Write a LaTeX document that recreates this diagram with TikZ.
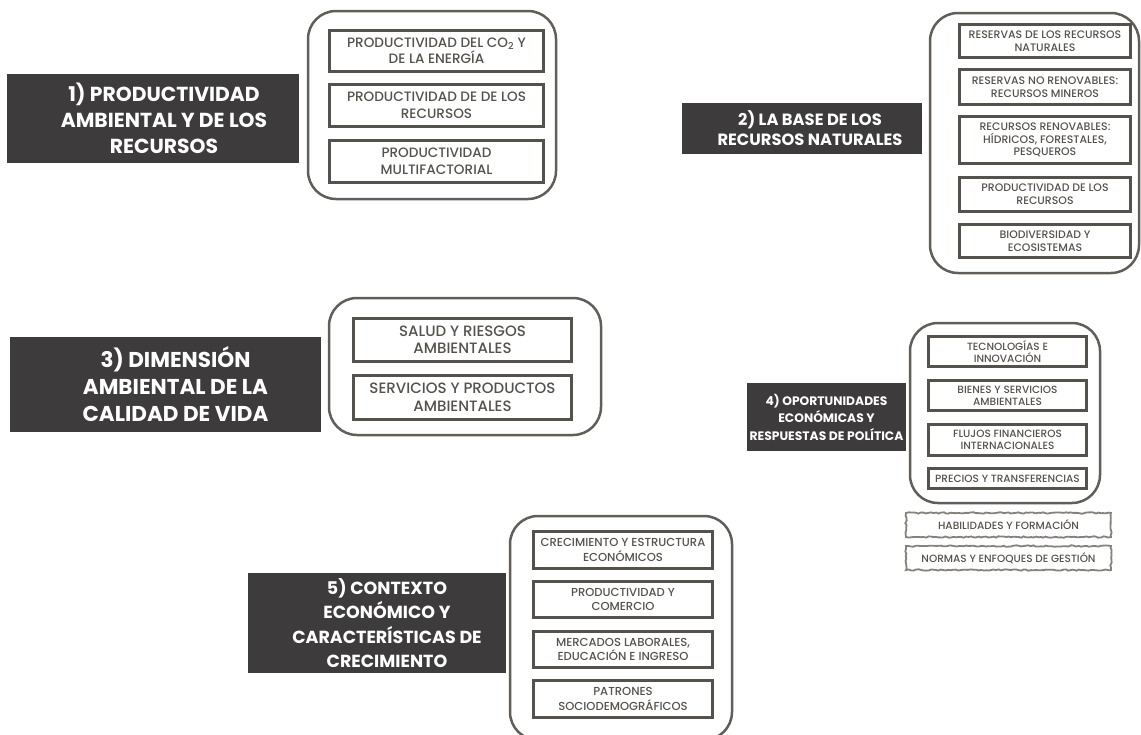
\documentclass[tikz,border=0pt]{standalone}
\usepackage{fontspec}
\IfFontExistsTF{Poppins Medium}
  {\setmainfont{Poppins}[UprightFont={* Medium}, BoldFont={* Bold}]}
  {\setmainfont{Poppins}}
\usetikzlibrary{decorations.pathmorphing}
\definecolor{titlegray}{HTML}{3D3B3C}
\definecolor{framegray}{HTML}{615D59}
\definecolor{itemgray}{HTML}{55514D}
\definecolor{roughgray}{HTML}{85827D}
\tikzset{
  titlebox/.style={fill=titlegray, inner sep=0pt},
  titletext/.style={text=white, align=center, inner sep=0pt},
  frame/.style={draw=framegray, line width=2.5pt, rounded corners=28pt, inner sep=0pt},
  item/.style={draw=itemgray, line width=3pt, text=itemgray, align=center, inner sep=0pt},
  rough/.style={draw=roughgray, line width=1.8pt, text=itemgray, align=center, inner sep=0pt,
    decorate, decoration={random steps, segment length=2.5pt, amplitude=0.7pt}},
}
\begin{document}
\begin{tikzpicture}[x=1pt, y=-1pt]
  \useasboundingbox (0,0) rectangle (1141,734);

  % 1) productividad ambiental
  \node[titlebox, minimum width=292, minimum height=89] (t1) at (153,118.5) {};
  \node[titletext, font=\fontsize{20.3}{26}\selectfont\bfseries] (t1txt) at ([xshift=11]t1.center)
    {1) PRODUCTIVIDAD\\AMBIENTAL Y DE LOS\\RECURSOS};
  \node[frame, minimum width=248, minimum height=188] (g1) at (432,105) {};
  \begin{scope}[every node/.append style={minimum width=214, font=\fontsize{13.6}{16.5}\selectfont}]
    \node[item, minimum height=41] (g1a) at (436.5,51) {PRODUCTIVIDAD DEL CO\textsubscript{2} Y\\DE LA ENERGÍA};
    \node[item, minimum height=42] (g1b) at (436.5,105.5) {PRODUCTIVIDAD DE DE LOS\\RECURSOS};
    \node[item, minimum height=42] (g1c) at (436.5,161.5) {PRODUCTIVIDAD\\MULTIFACTORIAL};
  \end{scope}

  % 2) base de los recursos naturales
  \node[titlebox, minimum width=240, minimum height=51] (t2) at (802,128.5) {};
  \node[titletext, font=\fontsize{16.3}{20}\selectfont\bfseries] (t2txt) at ([xshift=8]t2.center)
    {2) LA BASE DE LOS\\RECURSOS NATURALES};
  \node[frame, minimum width=209, minimum height=260] (g2) at (1034.5,143) {};
  \begin{scope}[every node/.append style={minimum width=171, font=\fontsize{10.9}{12.8}\selectfont}]
    \node[item, minimum height=33] (g2a) at (1045,41) {RESERVAS DE LOS RECURSOS\\NATURALES};
    \node[item, minimum height=35] (g2b) at (1045,87) {RESERVAS NO RENOVABLES:\\RECURSOS MINEROS};
    \node[item, minimum height=47] (g2c) at (1045,140) {RECURSOS RENOVABLES:\\HÍDRICOS, FORESTALES,\\PESQUEROS};
    \node[item, minimum height=34] (g2d) at (1045,194.5) {PRODUCTIVIDAD DE LOS\\RECURSOS};
    \node[item, minimum height=33] (g2e) at (1045,241) {BIODIVERSIDAD Y\\ECOSISTEMAS};
  \end{scope}

  % 3) calidad de vida
  \node[titlebox, minimum width=311, minimum height=95] (t3) at (165.5,384.5) {};
  \node[titletext, font=\fontsize{21.5}{27}\selectfont\bfseries] (t3txt) at ([xshift=10]t3.center)
    {3) DIMENSIÓN\\AMBIENTAL DE LA\\CALIDAD DE VIDA};
  \node[frame, minimum width=272, minimum height=137] (g3) at (465,366.5) {};
  \begin{scope}[every node/.append style={minimum width=218, font=\fontsize{15}{17.5}\selectfont}]
    \node[item, minimum height=43] (g3a) at (462.5,340) {SALUD Y RIESGOS\\AMBIENTALES};
    \node[item, minimum height=44] (g3b) at (462.5,397.5) {SERVICIOS Y PRODUCTOS\\AMBIENTALES};
  \end{scope}

  % 4) oportunidades economicas
  \node[titlebox, minimum width=159, minimum height=68] (t4) at (826.5,417) {};
  \node[titletext, font=\fontsize{12.3}{17.5}\selectfont\bfseries] (t4txt) at (t4.center)
    {4) OPORTUNIDADES\\ECONÓMICAS Y\\RESPUESTAS DE POLÍTICA};
  \node[frame, minimum width=190, minimum height=180] (g4) at (1005,413) {};
  \begin{scope}[every node/.append style={minimum width=158, font=\fontsize{10.5}{12.3}\selectfont}]
    \node[item, minimum height=30] (g4a) at (1007.5,351.5) {TECNOLOGÍAS E\\INNOVACIÓN};
    \node[item, minimum height=30] (g4b) at (1007.5,395.5) {BIENES Y SERVICIOS\\AMBIENTALES};
    \node[item, minimum height=31] (g4c) at (1007.5,440) {FLUJOS FINANCIEROS\\INTERNACIONALES};
    \node[item, minimum height=20] (g4d) at (1007.5,478.5) {PRECIOS Y TRANSFERENCIAS};
    \node[rough, minimum width=205, minimum height=24] (g4e) at (1008.5,525) {HABILIDADES Y FORMACIÓN};
    \node[rough, minimum width=205, minimum height=24] (g4f) at (1008.5,558) {NORMAS Y ENFOQUES DE GESTIÓN};
  \end{scope}

  % 5) contexto economico
  \node[titlebox, minimum width=258, minimum height=100] (t5) at (377,623) {};
  \node[titletext, font=\fontsize{17.5}{24.5}\selectfont\bfseries] (t5txt) at ([xshift=10]t5.center)
    {5) CONTEXTO\\ECONÓMICO Y\\CARACTERÍSTICAS DE\\CRECIMIENTO};
  \node[frame, minimum width=222, minimum height=224] (g5) at (621,628) {};
  \begin{scope}[every node/.append style={minimum width=179, font=\fontsize{11.6}{14.5}\selectfont}]
    \node[item, minimum height=37] (g5a) at (623,550) {CRECIMIENTO Y ESTRUCTURA\\ECONÓMICOS};
    \node[item, minimum height=36] (g5b) at (623,599.5) {PRODUCTIVIDAD Y\\COMERCIO};
    \node[item, minimum height=36] (g5c) at (623,649.5) {MERCADOS LABORALES,\\EDUCACIÓN E INGRESO};
    \node[item, minimum height=37] (g5d) at (623,699) {PATRONES\\SOCIODEMOGRÁFICOS};
  \end{scope}
\end{tikzpicture}
\end{document}
